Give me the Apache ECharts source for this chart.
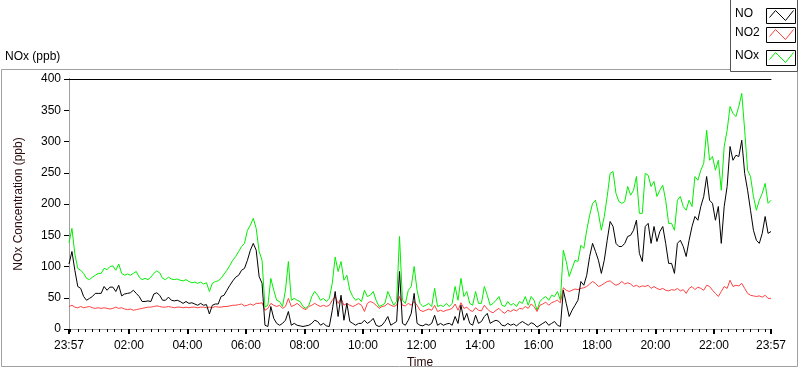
<!DOCTYPE html>
<html>
<head>
<meta charset="utf-8">
<script src="https://cdn.jsdelivr.net/npm/echarts@6/dist/echarts.min.js"></script>
<style>
html,body{margin:0;padding:0;background:#fff;}
#chart{width:800px;height:369px;}
</style>
</head>
<body>
<div id="chart"></div>
<script>
// Sampling step of the series (minutes from 23:57)
const stepMinutes = 6;

// Major x ticks (minutes after 23:57) and their labels
const tickMinutes = [0,123,243,363,483,603,723,843,963,1083,1203,1323,1440];
const tickLabels = ['23:57','02:00','04:00','06:00','08:00','10:00','12:00','14:00','16:00','18:00','20:00','22:00','23:57'];
const seriesNames = ['NO','NO2','NOx'];

const noValues = [
104,124,94,68,65,52,46,49,52,57, 57,57,68,62,67,67,60,70,53,56,
57,58,62,57,52,44,44,45,44,56, 58,54,46,46,51,46,45,46,44,41,
44,41,42,40,38,41,38,39,24,38, 40,40,52,54,62,70,77,83,86,94,
97,110,126,137,126,84,73,6,4,36, 17,9,6,9,14,28,6,9,6,5,
4,5,6,9,14,12,6,9,5,4, 30,60,20,54,14,41,12,9,6,9,
9,14,9,12,17,6,4,6,12,20, 6,9,12,92,9,6,14,25,57,9,
6,5,8,6,9,22,6,9,6,8, 9,6,20,9,38,14,25,9,6,22,
9,12,20,25,9,12,14,12,6,5, 9,6,8,5,9,12,9,6,10,8,
3,6,9,12,6,9,12,6,4,62, 41,20,30,38,46,76,70,86,116,137,
124,110,89,110,142,172,164,137,132,132, 137,148,150,158,174,121,108,164,169,137,
164,140,156,164,137,105,105,89,137,142, 132,116,142,164,180,174,196,212,244,206,
201,174,196,137,196,228,292,270,278,276, 302,249,222,190,158,142,137,153,180,153,
156];

const no2Values = [
36,38,35,34,36,34,35,36,34,33, 34,33,34,33,32,33,35,33,34,32,
31,32,30,31,32,33,34,35,35,36, 37,36,35,35,36,35,34,35,35,34,
35,34,35,35,34,35,35,34,35,34, 36,35,35,36,36,37,38,38,39,40,
37,38,40,38,41,41,42,30,33,41, 38,36,38,33,36,49,36,38,41,37,
33,31,36,38,41,38,36,38,36,38, 46,52,41,49,38,41,38,36,38,41,
38,28,41,44,42,38,33,36,37,41, 38,36,38,52,38,37,41,38,44,38,
30,28,30,32,30,38,28,30,28,30, 31,33,40,30,42,33,35,30,28,34,
30,29,38,32,28,26,30,33,28,25, 30,28,31,29,33,32,36,33,40,36,
28,38,40,43,38,42,44,46,42,66, 62,60,62,64,63,65,66,68,72,76,
73,68,70,73,76,77,73,70,72,76, 72,74,72,68,70,67,69,68,70,65,
68,65,63,65,62,61,63,62,65,61, 63,57,65,68,63,67,65,62,70,68,
62,57,52,60,68,65,78,68,70,69, 73,65,57,54,53,52,53,51,54,49,
49];

const noxValues = [
138,161,120,97,94,89,81,79,83,86, 89,89,97,95,100,101,94,104,89,86,
88,86,89,92,83,79,81,79,83,89, 93,90,81,79,83,80,79,80,78,77,
79,76,74,75,73,75,72,74,60,73, 76,77,81,88,94,102,110,116,124,132,
137,158,166,177,161,124,110,35,38,81, 62,46,44,36,62,108,46,49,46,44,
36,33,38,52,60,54,46,49,44,49, 73,115,92,108,78,86,62,52,46,49,
44,62,52,54,60,46,36,38,41,60, 49,38,44,148,46,41,62,68,100,62,
41,36,38,41,36,65,36,38,36,41, 36,41,68,46,81,52,60,41,38,60,
41,41,68,54,38,41,46,52,38,36, 44,38,41,36,44,41,52,38,52,46,
30,44,49,52,46,54,52,60,46,126, 108,84,97,110,108,134,129,158,182,201,
206,185,158,180,212,249,252,217,204,201, 204,228,214,222,244,185,185,249,246,228,
236,212,222,230,206,169,169,158,206,212, 196,190,206,196,244,238,254,265,318,270,
276,254,270,222,292,318,356,345,340,356, 377,318,254,244,212,190,206,217,233,201,
206];

const colors = {NO:'#000000', NO2:'#ff4040', NOx:'#00ee00'};

function pairs(vals){ return vals.map((v,i)=>[i*stepMinutes, v]); }

// minor ticks every 15 minutes from 00:00
const minorTicks = [];
for (let m = 3; m < 1440; m += 15) minorTicks.push(m);

const FONT = 'Liberation Sans';
const chart = echarts.init(document.getElementById('chart'), null, {renderer:'canvas'});

function legendRow(name, boxTop){
  const bx = 766.5, by = boxTop + 0.5;
  return [
    {type:'text', left:735, top:boxTop, style:{text:name, font:'12px "'+FONT+'"', fill:'#000'}, z:10},
    {type:'rect', shape:{x:bx, y:by, width:29, height:15}, style:{fill:'#fff', stroke:'#000', lineWidth:1}, z:10},
    {type:'polyline', shape:{points:[[bx+3,by+9],[bx+9,by+2],[bx+19,by+12],[bx+27,by+2]]}, style:{stroke:colors[name], lineWidth:1, fill:null}, z:11}
  ];
}

const option = {
  animation:false,
  textStyle:{fontFamily:FONT},
  grid:{left:69, right:29, top:79, bottom:40, outerBoundsMode:'none', containLabel:false},
  xAxis:[
    {type:'value', min:0, max:1440, position:'bottom',
     axisLine:{lineStyle:{color:'#a0a0a0', width:1}},
     axisTick:{customValues:tickMinutes, length:5, lineStyle:{color:'#000', width:2}},
     axisLabel:{customValues:tickMinutes, color:'#000', fontSize:12, margin:11,
       formatter:function(v){ const k = tickMinutes.indexOf(Math.round(v)); return k>=0 ? tickLabels[k] : ''; }},
     splitLine:{show:false},
     name:'Time', nameLocation:'middle', nameGap:28, nameTextStyle:{color:'#2a0a0a', fontSize:12}},
    {type:'value', min:0, max:1440, position:'bottom',
     axisLine:{show:false},
     axisTick:{customValues:minorTicks, length:3, lineStyle:{color:'#000', width:1}},
     axisLabel:{show:false}, splitLine:{show:false}},
    {type:'value', min:0, max:1440, position:'top',
     axisLine:{lineStyle:{color:'#000'}}, axisTick:{show:false}, axisLabel:{show:false}, splitLine:{show:false}}
  ],
  yAxis:[
    {type:'value', min:0, max:400, interval:50, position:'left',
     axisLine:{show:true, lineStyle:{color:'#000'}},
     axisTick:{show:true, length:5, lineStyle:{color:'#000'}},
     axisLabel:{color:'#000', fontSize:12, margin:8},
     splitLine:{show:false},
     name:'NOx Concentration (ppb)', nameLocation:'middle', nameGap:44,
     nameTextStyle:{color:'#2a0a0a', fontSize:12}},
    {type:'value', min:0, max:400, position:'right',
     axisLine:{show:true, lineStyle:{color:'#a0a0a0'}},
     axisTick:{show:false}, axisLabel:{show:false}, splitLine:{show:false}}
  ],
  series:[
    {name:'NOx', type:'line', data:pairs(noxValues), showSymbol:false, symbol:'none',
     lineStyle:{color:colors.NOx, width:1}, itemStyle:{color:colors.NOx}, z:2},
    {name:'NO2', type:'line', data:pairs(no2Values), showSymbol:false, symbol:'none',
     lineStyle:{color:colors.NO2, width:1}, itemStyle:{color:colors.NO2}, z:3},
    {name:'NO', type:'line', data:pairs(noValues), showSymbol:false, symbol:'none',
     lineStyle:{color:colors.NO, width:1}, itemStyle:{color:colors.NO}, z:4}
  ],
  graphic:[
    {type:'rect', shape:{x:1.5, y:69.5, width:796, height:297}, style:{fill:null, stroke:'#a0a0a0', lineWidth:1}, z:-1, silent:true},
    {type:'rect', shape:{x:730.5, y:-1, width:67, height:72.5}, style:{fill:'#fff', stroke:'#555', lineWidth:1}, z:9},
    {type:'text', left:5, top:51, style:{text:'NOx (ppb)', font:'12px "'+FONT+'"', fill:'#000'}}
  ].concat(legendRow('NO',8), legendRow('NO2',27), legendRow('NOx',50))
};
chart.setOption(option);
</script>
</body>
</html>
